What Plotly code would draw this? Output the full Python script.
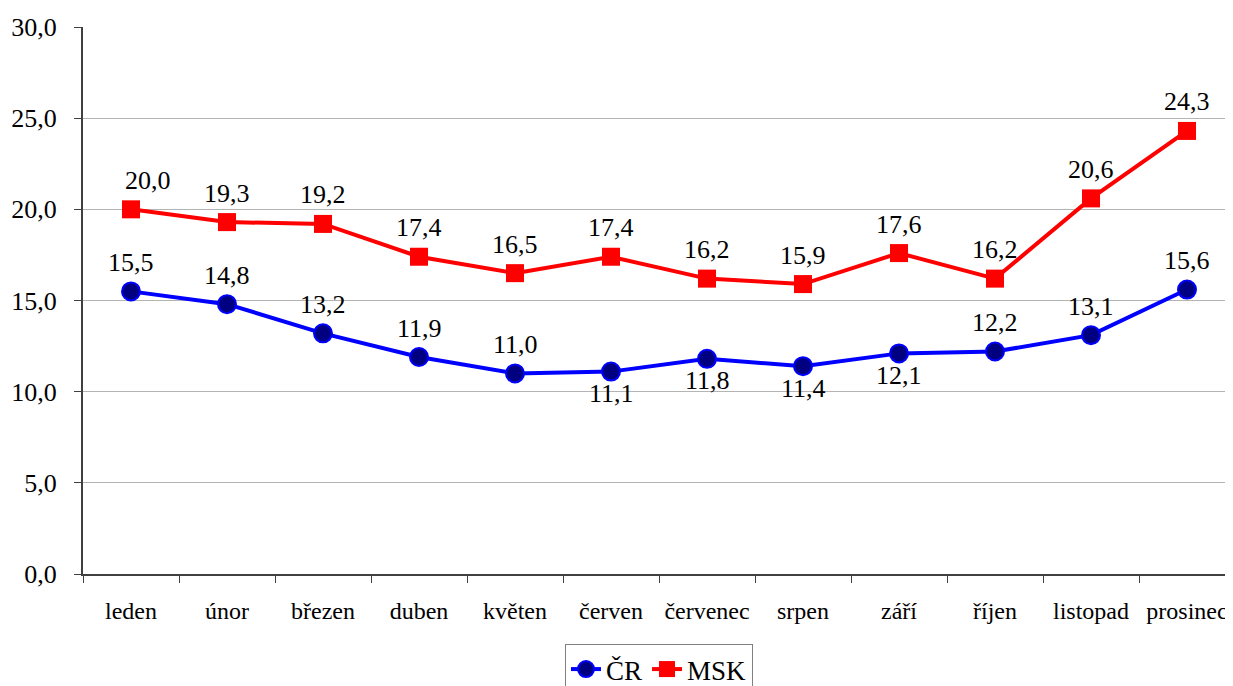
import plotly.graph_objects as go

months = ["leden", "únor", "březen", "duben", "květen", "červen", "červenec",
          "srpen", "září", "říjen", "listopad", "prosinec"]
cr_values = [15.5, 14.8, 13.2, 11.9, 11.0, 11.1, 11.8, 11.4, 12.1, 12.2, 13.1, 15.6]
msk_values = [20.0, 19.3, 19.2, 17.4, 16.5, 17.4, 16.2, 15.9, 17.6, 16.2, 20.6, 24.3]
cr_label_side = ["above", "above", "above", "above", "above", "below", "below",
                 "below", "below", "above", "above", "above"]
y_ticks = [0, 5, 10, 15, 20, 25, 30]

FONT = "Liberation Serif"

fig = go.Figure()
fig.add_trace(go.Scatter(
    x=months, y=cr_values, name="ČR", mode="lines+markers",
    line=dict(color="#0000FF", width=4),
    marker=dict(symbol="circle", size=18, color="#000080",
                line=dict(color="#0000FF", width=2)),
))
fig.add_trace(go.Scatter(
    x=months, y=msk_values, name="MSK", mode="lines+markers",
    line=dict(color="#FF0000", width=4),
    marker=dict(symbol="square", size=18, color="#FF0000",
                line=dict(color="#FF0000", width=0)),
))

annotations = []
for i, (m, v) in enumerate(zip(months, msk_values)):
    annotations.append(dict(x=m, y=v, text=f"{v:.1f}".replace(".", ","),
                            showarrow=False, yshift=29, xshift=17 if i == 0 else 0,
                            font=dict(family=FONT, size=26, color="black")))
for m, v, side in zip(months, cr_values, cr_label_side):
    annotations.append(dict(x=m, y=v, text=f"{v:.1f}".replace(".", ","),
                            showarrow=False, yshift=29 if side == "above" else -22,
                            font=dict(family=FONT, size=26, color="black")))

fig.update_layout(
    width=1227, height=678,
    margin=dict(l=75, r=0, t=19, b=112, autoexpand=False),
    paper_bgcolor="white", plot_bgcolor="white",
    separators=", ",
    font=dict(family=FONT, size=26, color="black"),
    showlegend=True,
    legend=dict(orientation="h", x=0.5, xanchor="center", y=-0.128, yanchor="top",
                bordercolor="#808080", borderwidth=1,
                font=dict(family=FONT, size=27, color="black"),
                itemwidth=30, tracegroupgap=0),
    annotations=annotations,
)
fig.update_xaxes(
    type="category", range=[-0.5, 11.5], showline=True, linecolor="#404040", linewidth=2,
    ticks="outside", tickson="boundaries", ticklen=7, tickcolor="#404040",
    showgrid=False, tickfont=dict(family=FONT, size=24), ticklabelstandoff=14,
    tickangle=0, automargin=False,
)
fig.update_yaxes(
    range=[0, 30], tickvals=y_ticks, tickformat=".1f", showline=True,
    linecolor="#404040", linewidth=2, ticks="outside", ticklen=7, tickcolor="#404040",
    showgrid=True, gridcolor="#b4b4b4", gridwidth=1, zeroline=False,
    tickfont=dict(family=FONT, size=26), ticklabelstandoff=12, automargin=False,
)

fig.write_html("out.html")
